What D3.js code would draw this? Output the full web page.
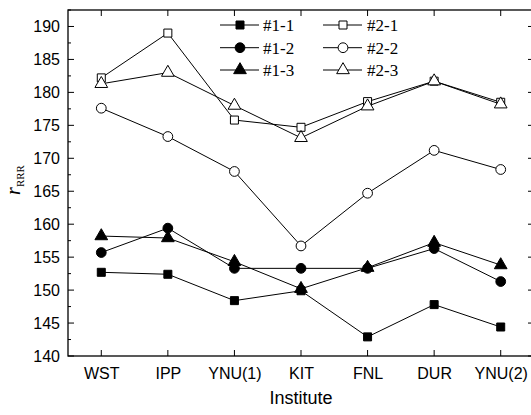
<!DOCTYPE html>
<html><head><meta charset="utf-8">
<script src="https://cdn.jsdelivr.net/npm/d3@7/dist/d3.min.js"></script>
<style>body{margin:0;background:#fff}svg{display:block}</style>
</head><body>
<svg id="c" width="531" height="415"></svg>
<script>
const categories = ["WST","IPP","YNU(1)","KIT","FNL","DUR","YNU(2)"];
const s11 = [152.7,152.4,148.4,149.9,142.9,147.8,144.4];
const s12 = [155.7,159.4,153.3,153.3,153.3,156.3,151.3];
const s13 = [158.2,157.9,154.3,150.2,153.4,157.2,153.8];
const s21 = [182.2,189.0,175.8,174.7,178.6,181.7,178.5];
const s22 = [177.6,173.3,168.0,156.7,164.7,171.2,168.3];
const s23 = [181.3,183.0,178.0,173.1,177.9,181.7,178.2];
const yTicks = [140,145,150,155,160,165,170,175,180,185,190];
const seriesNames = ["#1-1","#1-2","#1-3","#2-1","#2-2","#2-3"];

const series = [
  {name:seriesNames[0], values:s11, shape:"square", fill:"#000"},
  {name:seriesNames[1], values:s12, shape:"circle", fill:"#000"},
  {name:seriesNames[2], values:s13, shape:"triangle", fill:"#000"},
  {name:seriesNames[3], values:s21, shape:"square", fill:"#fff"},
  {name:seriesNames[4], values:s22, shape:"circle", fill:"#fff"},
  {name:seriesNames[5], values:s23, shape:"triangle", fill:"#fff"}
];

const L=68, R=534, T=10, B=356;
const svg = d3.select("#c");
const x = d3.scalePoint().domain(categories).range([L,R]).padding(0.5);
const y = d3.scaleLinear().domain([140,192.5]).range([B,T]);

const sym = {
  square: d3.symbol().type(d3.symbolSquare).size(64),
  circle: d3.symbol().type(d3.symbolCircle).size(75),
  triangle: d3.symbol().type(d3.symbolTriangle).size(70)
};

// frame
svg.append("rect").attr("x",L).attr("y",T).attr("width",R-L).attr("height",B-T)
  .attr("fill","none").attr("stroke","#000").attr("stroke-width",1.3);

const minor = d3.range(140,192.6,2.5);
// left axis
const gL = svg.append("g").attr("transform",`translate(${L},0)`);
gL.call(d3.axisLeft(y).tickValues(yTicks).tickSize(0).tickPadding(8).tickFormat(d3.format("d")))
  .call(g=>g.select(".domain").remove())
  .selectAll("text").attr("font-family","Liberation Sans, Arial, sans-serif").attr("font-size",16).attr("fill","#000");
gL.selectAll("line.mt").data(minor).enter().append("line")
  .attr("x1",0).attr("x2",d=> (d%5===0)?6:3).attr("y1",d=>y(d)).attr("y2",d=>y(d)).attr("stroke","#000");
// right ticks
svg.append("g").selectAll("line").data(minor).enter().append("line")
  .attr("x1",R).attr("x2",d=>R-((d%5===0)?6:3)).attr("y1",d=>y(d)).attr("y2",d=>y(d)).attr("stroke","#000");

// bottom axis
const gB = svg.append("g").attr("transform",`translate(0,${B})`);
gB.call(d3.axisBottom(x).tickSize(0).tickPadding(12))
  .call(g=>g.select(".domain").remove())
  .selectAll("text").attr("font-family","Liberation Sans, Arial, sans-serif").attr("font-size",16).attr("fill","#000");
gB.selectAll("line.bt").data(categories).enter().append("line")
  .attr("x1",d=>x(d)).attr("x2",d=>x(d)).attr("y1",0).attr("y2",-6).attr("stroke","#000");
svg.append("g").selectAll("line").data(categories).enter().append("line")
  .attr("x1",d=>x(d)).attr("x2",d=>x(d)).attr("y1",T).attr("y2",T+6).attr("stroke","#000");

// axis titles
svg.append("text").attr("x",301).attr("y",404).attr("text-anchor","middle")
  .attr("font-family","Liberation Sans, Arial, sans-serif").attr("font-size",18).text("Institute");
const yt = svg.append("text").attr("transform","translate(20,180) rotate(-90)").attr("text-anchor","middle")
  .attr("font-family","Liberation Serif, Times New Roman, serif");
yt.append("tspan").attr("font-style","italic").attr("font-size",20).text("r");
yt.append("tspan").attr("font-size",11).attr("dy",4).text("RRR");

// lines and markers
const line = d3.line().x((d,i)=>x(categories[i])).y(d=>y(d));
series.forEach(s=>{
  svg.append("path").datum(s.values).attr("d",line).attr("fill","none").attr("stroke","#000").attr("stroke-width",1);
});
series.forEach(s=>{
  svg.append("g").selectAll("path").data(s.values).enter().append("path")
    .attr("d",sym[s.shape]).attr("transform",(d,i)=>`translate(${x(categories[i])},${y(d)})`)
    .attr("fill",s.fill).attr("stroke","#000").attr("stroke-width",1);
});

// legend
const legRows=[25,47.7,70];
const legCols=[{lx1:220,lx2:259,mx:240,tx:263},{lx1:323,lx2:362,mx:343,tx:367}];
series.forEach((s,i)=>{
  const c=legCols[Math.floor(i/3)], ry=legRows[i%3];
  const g=svg.append("g");
  g.append("line").attr("x1",c.lx1).attr("x2",c.lx2).attr("y1",ry).attr("y2",ry).attr("stroke","#000");
  g.append("path").attr("d",sym[s.shape]).attr("transform",`translate(${c.mx},${ry})`)
    .attr("fill",s.fill).attr("stroke","#000");
  g.append("text").attr("x",c.tx).attr("y",ry).attr("dy","0.35em")
    .attr("font-family","Liberation Serif, Times New Roman, serif").attr("font-size",17).text(s.name);
});
</script>
</body></html>
